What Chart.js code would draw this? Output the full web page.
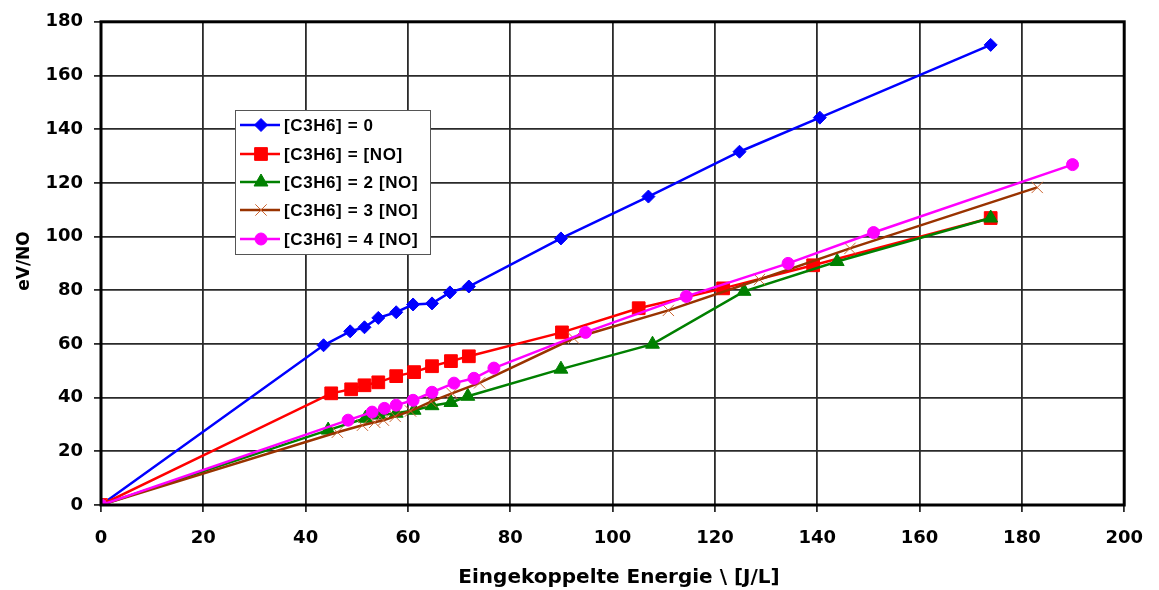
<!DOCTYPE html>
<html>
<head>
<meta charset="utf-8">
<script src="https://cdn.jsdelivr.net/npm/chart.js@4"></script>
<style>
  html, body { margin: 0; padding: 0; background: #fff; }
  #wrap { width: 1159px; height: 590px; }
</style>
</head>
<body>
<div id="wrap"><canvas id="chart" width="1159" height="590"></canvas></div>
<script>
const seriesNames = ["[C3H6] = 0", "[C3H6] = [NO]", "[C3H6] = 2 [NO]", "[C3H6] = 3 [NO]", "[C3H6] = 4 [NO]"];

const energy0 = [0, 43.5, 48.7, 51.5, 54.2, 57.7, 61, 64.7, 68.2, 71.9, 89.9, 107, 124.8, 140.5, 173.9];
const evno0   = [0, 59.5, 64.7, 66.2, 69.7, 71.8, 74.7, 75.1, 79.2, 81.4, 99.3, 114.9, 131.6, 144.3, 171.4];

const energy1 = [0, 45, 48.9, 51.5, 54.2, 57.7, 61.2, 64.7, 68.4, 71.9, 90.1, 105.1, 121.6, 139.2, 173.9];
const evno1   = [0, 41.6, 43.1, 44.6, 45.7, 48, 49.5, 51.7, 53.6, 55.4, 64.3, 73.3, 80.7, 89.3, 106.9];

const energy2 = [0, 44.4, 51.7, 54.4, 57.7, 61.2, 64.7, 68.4, 71.7, 89.9, 107.8, 125.7, 143.9, 173.9];
const evno2   = [0, 27.9, 32.3, 33.5, 34.2, 35.3, 37, 38.2, 40.5, 50.6, 59.9, 79.6, 90.7, 106.9];

const energy3 = [0, 46.2, 51.1, 53.5, 55.2, 57.5, 60.5, 64.5, 68.6, 74, 92.4, 110.9, 128.7, 146.4, 183];
const evno3   = [0, 27.1, 29.7, 30.8, 31.6, 33, 35, 38.5, 41.6, 45.5, 62.1, 72.5, 84, 95.6, 118.3];

const energy4 = [0, 48.3, 53, 55.4, 57.7, 61, 64.7, 69, 72.9, 76.8, 94.7, 114.4, 134.3, 151, 189.9];
const evno4   = [0, 31.6, 34.6, 36, 37.2, 39, 42, 45.4, 47.2, 51, 64.3, 77.7, 90, 101.5, 126.8];

const xTicks = [0, 20, 40, 60, 80, 100, 120, 140, 160, 180, 200];
const yTicks = [0, 20, 40, 60, 80, 100, 120, 140, 160, 180];

const xTitle = "Eingekoppelte Energie \\ [J/L]";
const yTitle = "eV/NO";

const lineColors = ["#0000ff", "#ff0000", "#008000", "#993300", "#ff00ff"];
const pointShapes = ["rectRot", "rect", "triangle", "crossRot", "circle"];
const pointSizes = [6.5, 9, 8, 8, 6];

function pairs(xs, ys) {
  return xs.map((x, i) => ({ x: x, y: ys[i] }));
}

const allX = [energy0, energy1, energy2, energy3, energy4];
const allY = [evno0, evno1, evno2, evno3, evno4];

const datasets = seriesNames.map((name, i) => ({
  label: name,
  data: pairs(allX[i], allY[i]),
  borderColor: lineColors[i],
  backgroundColor: lineColors[i],
  borderWidth: 2.5,
  pointStyle: pointShapes[i],
  pointRadius: pointSizes[i],
  pointBorderWidth: 1,
  pointBorderColor: i === 3 ? "#cc6633" : lineColors[i],
  showLine: true,
  tension: 0,
  order: 5 - i  // later series sit on top
}));

const TICK_FONT = "'DejaVu Sans', sans-serif";
const TEXT_FONT = "'Liberation Sans', Arial, sans-serif";

// frame, axis titles and the legend box inside the plot
const boxAndLegend = {
  id: "boxAndLegend",
  afterDatasetsDraw(chart) {
    const ctx = chart.ctx;
    const a = chart.chartArea;
    ctx.save();
    ctx.strokeStyle = "#000";
    ctx.lineWidth = 3;
    ctx.strokeRect(a.left, a.top, a.right - a.left, a.bottom - a.top);

    // axis titles
    ctx.fillStyle = "#000";
    ctx.textAlign = "center";
    ctx.textBaseline = "middle";
    ctx.font = "bold 20px " + TICK_FONT;
    ctx.fillText(xTitle, 619, 578);
    ctx.font = "bold 17px " + TICK_FONT;
    ctx.save();
    ctx.translate(25, 261);
    ctx.rotate(-Math.PI / 2);
    ctx.fillText(yTitle, 0, 0);
    ctx.restore();

    const bx = 235, by = 110, bw = 195, bh = 144;
    ctx.fillStyle = "#fff";
    ctx.fillRect(bx, by, bw, bh);
    ctx.strokeStyle = "#555";
    ctx.lineWidth = 1;
    ctx.strokeRect(bx + 0.5, by + 0.5, bw, bh);

    const rowY = [125, 154, 182, 210, 239];
    ctx.font = "bold 17px " + TEXT_FONT;
    ctx.textAlign = "left";
    ctx.letterSpacing = "0.6px";
    chart.data.datasets.forEach((ds, i) => {
      const y = rowY[i];
      ctx.strokeStyle = ds.borderColor;
      ctx.lineWidth = 2.5;
      ctx.beginPath();
      ctx.moveTo(240, y);
      ctx.lineTo(280, y);
      ctx.stroke();
      ctx.fillStyle = ds.backgroundColor;
      ctx.strokeStyle = ds.pointBorderColor;
      ctx.lineWidth = ds.pointBorderWidth;
      Chart.helpers.drawPoint(ctx, { pointStyle: ds.pointStyle, radius: ds.pointRadius, rotation: 0, borderWidth: 1 }, 261, y);
      ctx.fillStyle = "#000";
      ctx.fillText(ds.label, 284, y + 1);
    });
    ctx.restore();
  }
};

new Chart(document.getElementById("chart"), {
  type: "scatter",
  data: { datasets: datasets },
  plugins: [boxAndLegend],
  options: {
    responsive: false,
    animation: false,
    layout: { padding: { top: 21, right: 32, left: 0, bottom: 0 } },
    plugins: {
      legend: { display: false },
      tooltip: { enabled: false }
    },
    scales: {
      x: {
        type: "linear",
        min: 0,
        max: 200,
        afterBuildTicks: (s) => { s.ticks = xTicks.map(v => ({ value: v })); },
        afterFit: (s) => { s.height = 85; },
        grid: { color: "#2a2a2a", lineWidth: 1.8, tickLength: 7 },
        border: { display: false },
        ticks: { color: "#000", padding: 16, font: { family: TICK_FONT, size: 18, weight: "bold" } }
      },
      y: {
        type: "linear",
        min: 0,
        max: 180,
        afterBuildTicks: (s) => { s.ticks = yTicks.map(v => ({ value: v })); },
        afterFit: (s) => { s.width = 101; },
        grid: { color: "#2a2a2a", lineWidth: 1.8, tickLength: 7 },
        border: { display: false },
        ticks: { color: "#000", padding: 11, font: { family: TICK_FONT, size: 18, weight: "bold" } }
      }
    }
  }
});
</script>
</body>
</html>
